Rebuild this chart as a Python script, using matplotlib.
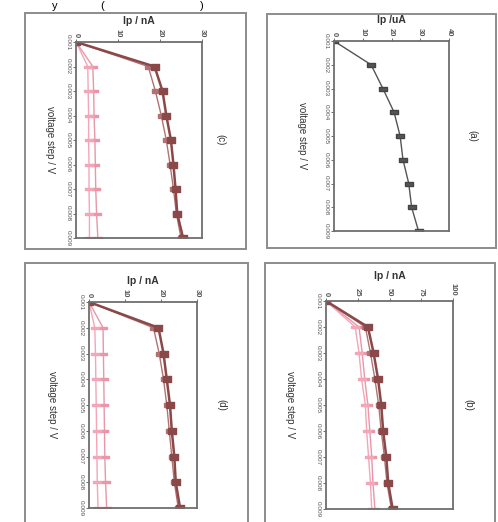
import numpy as np
import matplotlib
matplotlib.use('Agg')
from matplotlib import pyplot as plt
from matplotlib.patches import Rectangle

plt.rcParams['font.family'] = ['Liberation Sans', 'DejaVu Sans']

voltage = [0.001, 0.002, 0.003, 0.004, 0.005, 0.006, 0.007, 0.008, 0.009]
vticks = ['0.001', '0.002', '0.003', '0.004', '0.005', '0.006', '0.007', '0.008', '0.009']

a_ip = [0, 12.9, 17.0, 20.9, 23.0, 24.0, 26.0, 27.0, 29.4]

b_dark1 = [0, 33.0, 37.5, 41.0, 43.5, 45.0, 47.5, 49.0, 52.5]
b_dark2 = [0, 31.0, 35.0, 38.5, 41.5, 43.5, 46.0, 48.0, 51.5]
b_pink1 = [0, 23.0, 26.0, 28.0, 31.0, 32.0, 33.5, 35.0, 36.0]
b_pink2 = [0, 26.0, 28.5, 30.5, 33.0, 34.5, 36.0, 37.0, 38.5]

c_dark1 = [0, 18.7, 20.6, 21.5, 22.6, 23.2, 23.7, 24.1, 25.5]
c_dark2 = [0, 17.2, 18.9, 20.3, 21.5, 22.4, 23.2, 23.9, 25.0]
c_pink1 = [0, 2.8, 2.9, 3.0, 3.0, 3.1, 3.1, 3.2, 3.2]
c_pink2 = [0, 4.0, 4.2, 4.3, 4.5, 4.6, 4.7, 4.9, 5.2]

d_dark1 = [0, 19.3, 20.7, 21.6, 22.5, 23.0, 23.7, 24.1, 25.3]
d_dark2 = [0, 17.9, 19.5, 20.7, 21.6, 22.3, 23.0, 23.7, 24.8]
d_pink1 = [0, 1.6, 1.8, 1.9, 2.0, 2.1, 2.2, 2.3, 2.5]
d_pink2 = [0, 3.9, 4.0, 4.1, 4.2, 4.3, 4.4, 4.6, 4.9]

W, H = 498, 522
dark = '#8a4848'
dark_lt = '#b27272'
pink = '#f2a6b8'
pink2 = '#e896a8'
gray = '#555555'

box_mk = [(-1.6, -1), (1.6, -1), (1.6, 1), (-1.6, 1), (-1.6, -1)]
dash_mk = [(-4, -0.8), (4, -0.8), (4, 0.8), (-4, 0.8), (-4, -0.8)]

fig = plt.figure(figsize=(W / 100, H / 100), dpi=100)


def px_axes(l, r, t, b):
    return fig.add_axes([l / W, 1 - b / H, (r - l) / W, (b - t) / H])


def frame(l, r, t, b):
    fig.patches.append(Rectangle((l / W, 1 - b / H), (r - l) / W, (b - t) / H,
                                 transform=fig.transFigure, fill=False,
                                 edgecolor='#8c8c8c', linewidth=1.4))


def setup(ax, xmax, step, xlabel, tag, label_x, tag_x):
    ax.set_xlim(0, xmax)
    ax.set_ylim(0.009, 0.001)
    ax.xaxis.tick_top()
    ax.xaxis.set_label_position('top')
    ax.set_xticks(np.arange(0, xmax + 1, step))
    ax.set_xticklabels([str(int(v)) for v in np.arange(0, xmax + 1, step)],
                       rotation=-90, fontsize=5.5, fontweight='bold', color='#333333')
    ax.set_yticks(voltage)
    ax.set_yticklabels(vticks, rotation=-90, fontsize=4.6, color='#333333', va='center')
    ax.tick_params(length=2, width=0.6, pad=1.5, colors='#555555')
    ax.set_xlabel(xlabel, fontsize=7.5, fontweight='bold', labelpad=3, color='#333333')
    for s in ax.spines.values():
        s.set_color('#6e6e6e')
        s.set_linewidth(1.3)
    pos = ax.get_position()
    ymid = pos.y0 + pos.height / 2
    fig.text(label_x / W, ymid, 'voltage step / V', rotation=-90, fontsize=7,
             ha='center', va='center', color='#333333')
    fig.text(tag_x / W, ymid, tag, rotation=-90, fontsize=7,
             ha='center', va='center', color='#333333')


def pair_plot(ax, d1, d2, p1, p2):
    ax.plot(p2, voltage, color=pink2, lw=1.0, marker=dash_mk, ms=5.5, mec=pink2, mfc=pink2)
    ax.plot(p1, voltage, color=pink, lw=1.0, marker=dash_mk, ms=5.5, mec=pink, mfc=pink)
    ax.plot(d2, voltage, color=dark_lt, lw=1.0, marker=box_mk, ms=5, mec=dark_lt, mfc=dark_lt)
    ax.plot(d1, voltage, color=dark, lw=1.8, marker=box_mk, ms=6, mec=dark, mfc=dark)


# (c) top-left
frame(25, 246, 13, 249)
ax_c = px_axes(76, 202, 42, 238)
pair_plot(ax_c, c_dark1, c_dark2, c_pink1, c_pink2)
setup(ax_c, 30, 10, 'Ip / nA', '(c)', 50, 220)

# (a) top-right
frame(267, 496, 14, 248)
ax_a = px_axes(334, 449, 41, 231)
ax_a.plot(a_ip, voltage, color=gray, lw=1.0, marker=box_mk, ms=5.5, mec='#444444', mfc='#555555')
setup(ax_a, 40, 10, 'Ip /uA', '(a)', 302, 472)

# (d) bottom-left
frame(25, 248, 263, 530)
ax_d = px_axes(89, 197, 302, 508)
pair_plot(ax_d, d_dark1, d_dark2, d_pink1, d_pink2)
setup(ax_d, 30, 10, 'Ip / nA', '(d)', 52, 221)

# (b) bottom-right
frame(265, 495, 263, 530)
ax_b = px_axes(326, 453, 301, 509)
pair_plot(ax_b, b_dark1, b_dark2, b_pink1, b_pink2)
setup(ax_b, 100, 25, 'Ip / nA', '(b)', 290, 468)

# caption fragment at the top edge of the scan
fig.text(52 / W, 1 - 1 / H, 'y', fontsize=8, ha='left', va='top')
fig.text(100 / W, 1 - 1 / H, '(', fontsize=8, ha='left', va='top')
fig.text(200 / W, 1 - 1 / H, ')', fontsize=8, ha='left', va='top')

fig.savefig('out.png', dpi=100)
